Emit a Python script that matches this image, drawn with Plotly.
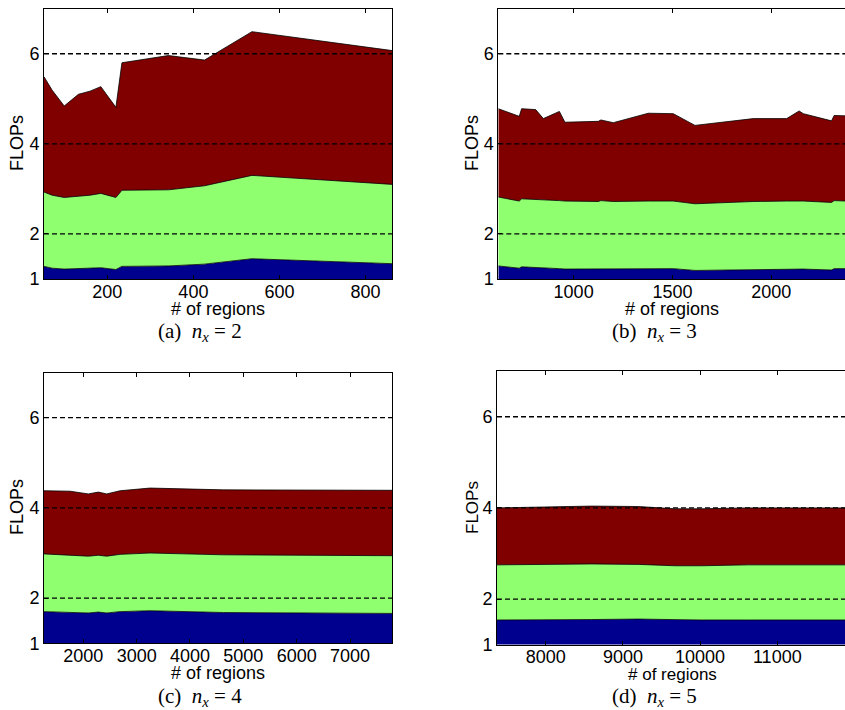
import plotly.graph_objects as go

# ---- data: FLOPs split into three stacked components vs. number of regions ----
# panel (a) n_x = 2
regions_a = [53, 72, 100, 133, 160, 185, 220, 234, 342, 426, 536, 862]
part1_a = [1.28, 1.24, 1.22, 1.23, 1.24, 1.25, 1.21, 1.28, 1.29, 1.33, 1.45, 1.34]
part2_a = [1.65, 1.62, 1.59, 1.60, 1.62, 1.65, 1.60, 1.69, 1.69, 1.74, 1.85, 1.76]
part3_a = [2.56, 2.33, 2.03, 2.27, 2.31, 2.37, 2.00, 2.83, 2.98, 2.79, 3.19, 2.97]

# panel (b) n_x = 3
regions_b = [619, 725, 737, 808, 847, 928, 956, 1125, 1138, 1201, 1378, 1504,
             1614, 1909, 2078, 2141, 2162, 2305, 2318, 2381]
part1_b = [1.29, 1.24, 1.27, 1.26, 1.24, 1.23, 1.22, 1.22, 1.23, 1.22, 1.23, 1.23,
           1.19, 1.21, 1.22, 1.22, 1.22, 1.20, 1.23, 1.23]
part2_b = [1.53, 1.49, 1.51, 1.51, 1.51, 1.51, 1.51, 1.50, 1.51, 1.50, 1.50, 1.50,
           1.48, 1.51, 1.51, 1.51, 1.51, 1.50, 1.51, 1.50]
part3_b = [1.96, 1.88, 2.00, 1.99, 1.81, 1.98, 1.75, 1.78, 1.79, 1.75, 1.95, 1.94,
           1.74, 1.84, 1.83, 2.00, 1.94, 1.81, 1.89, 1.89]

# panel (c) n_x = 4
regions_c = [1263, 1751, 2094, 2282, 2439, 2689, 3252, 4627, 7793]
part1_c = [1.70, 1.69, 1.67, 1.69, 1.67, 1.70, 1.72, 1.68, 1.66]
part2_c = [1.28, 1.26, 1.26, 1.26, 1.26, 1.27, 1.28, 1.28, 1.28]
part3_c = [1.40, 1.42, 1.38, 1.40, 1.38, 1.41, 1.44, 1.44, 1.45]

# panel (d) n_x = 5
regions_d = [7369, 7775, 8596, 9200, 9675, 10020, 10624, 11229, 11877]
part1_d = [1.54, 1.54, 1.55, 1.56, 1.54, 1.54, 1.54, 1.54, 1.54]
part2_d = [1.21, 1.22, 1.22, 1.20, 1.19, 1.19, 1.21, 1.21, 1.21]
part3_d = [1.25, 1.25, 1.27, 1.27, 1.25, 1.25, 1.25, 1.25, 1.25]

captions = ["(a)", "(b)", "(c)", "(d)"]
nx_values = [2, 3, 4, 5]
y_ticks = [1, 2, 4, 6]
ref_levels = [2, 4, 6]

colors = ["#00008f", "#8fff70", "#800000"]

W, H = 845, 710


def px_x(p):
    return p / W


def px_y(p):
    return 1 - p / H


panels = [
    dict(x=regions_a, parts=[part1_a, part2_a, part3_a], xr=[53, 862], dtick=200,
         xd=[44, 392.3], yd=[8.7, 279.0], mirror_y=True,
         ylab=(17, 143), xlab=(218, 309), cap=(200, 332), fs=18),
    dict(x=regions_b, parts=[part1_b, part2_b, part3_b], xr=[619, 2373], dtick=500,
         xd=[498.3, 845], yd=[8.7, 279.0], mirror_y=False,
         ylab=(472, 143), xlab=(672, 309), cap=(654, 332), fs=18),
    dict(x=regions_c, parts=[part1_c, part2_c, part3_c], xr=[1263, 7793], dtick=1000,
         xd=[44, 392.3], yd=[372.6, 643.2], mirror_y=True,
         ylab=(17, 507), xlab=(218, 673), cap=(200, 697), fs=18),
    dict(x=regions_d, parts=[part1_d, part2_d, part3_d], xr=[7369, 11877], dtick=1000,
         xd=[497, 845], yd=[371.2, 644.6], mirror_y=False,
         ylab=(472, 508), xlab=(672, 674), cap=(654, 697), fs=17),
]

fig = go.Figure()
annotations = []
shapes = []
tick_font = dict(family="Liberation Sans, Arial, sans-serif", size=18, color="black")

for i, p in enumerate(panels):
    n = i + 1
    xa = "x" if n == 1 else f"x{n}"
    ya = "y" if n == 1 else f"y{n}"
    for k, vals in enumerate(p["parts"]):
        fig.add_trace(go.Scatter(
            x=p["x"], y=vals, xaxis=xa, yaxis=ya,
            stackgroup=f"s{n}", mode="lines",
            line=dict(color="black", width=0.8),
            fillcolor=colors[k], showlegend=False, hoverinfo="skip",
        ))
    xkey = "xaxis" if n == 1 else f"xaxis{n}"
    ykey = "yaxis" if n == 1 else f"yaxis{n}"
    fig.update_layout({
        xkey: dict(
            domain=[px_x(p["xd"][0]), px_x(p["xd"][1])], anchor=ya,
            range=p["xr"], dtick=p["dtick"], tick0=0, tickformat="d",
            showgrid=False, zeroline=False, showline=True, linecolor="black",
            linewidth=1, mirror="ticks", ticks="inside", ticklen=4,
            tickcolor="black", tickfont=tick_font, automargin=False,
            ticklabelstandoff=-4,
        ),
        ykey: dict(
            domain=[px_y(p["yd"][1]), px_y(p["yd"][0])], anchor=xa,
            range=[1, 7], tickvals=y_ticks,
            showgrid=False, zeroline=False, showline=True, linecolor="black",
            linewidth=1, mirror=p["mirror_y"], ticks="inside", ticklen=4,
            tickcolor="black", tickfont=tick_font, automargin=False,
        ),
    })
    # dashed reference levels drawn over the areas
    for lv in ref_levels:
        shapes.append(dict(
            type="line", xref=f"{xa} domain", yref=ya, x0=0, x1=1, y0=lv, y1=lv,
            line=dict(color="black", width=1.3, dash="5px,3px"), layer="above",
        ))
    fs = p["fs"]
    annotations.append(dict(
        text="FLOPs", x=px_x(p["ylab"][0]), y=px_y(p["ylab"][1]),
        xref="paper", yref="paper", textangle=-90, showarrow=False,
        xanchor="center", yanchor="middle", borderpad=0,
        font=dict(family="Liberation Sans, Arial, sans-serif", size=fs, color="black"),
    ))
    annotations.append(dict(
        text="# of regions", x=px_x(p["xlab"][0]), y=px_y(p["xlab"][1]),
        xref="paper", yref="paper", showarrow=False,
        xanchor="center", yanchor="middle", borderpad=0,
        font=dict(family="Liberation Sans, Arial, sans-serif", size=fs, color="black"),
    ))
    annotations.append(dict(
        text=(f"{captions[i]}&nbsp;&nbsp;<i>n</i><sub><i>x</i></sub>"
              f"&nbsp;=&nbsp;{nx_values[i]}"),
        x=px_x(p["cap"][0]), y=px_y(p["cap"][1]),
        xref="paper", yref="paper", showarrow=False,
        xanchor="center", yanchor="middle", borderpad=0,
        font=dict(family="Liberation Serif, Times New Roman, serif", size=21, color="black"),
    ))

fig.update_layout(
    width=W, height=H,
    margin=dict(l=0, r=0, t=0, b=0),
    paper_bgcolor="white", plot_bgcolor="white",
    showlegend=False,
    annotations=annotations, shapes=shapes,
)

fig.write_html("out.html")
